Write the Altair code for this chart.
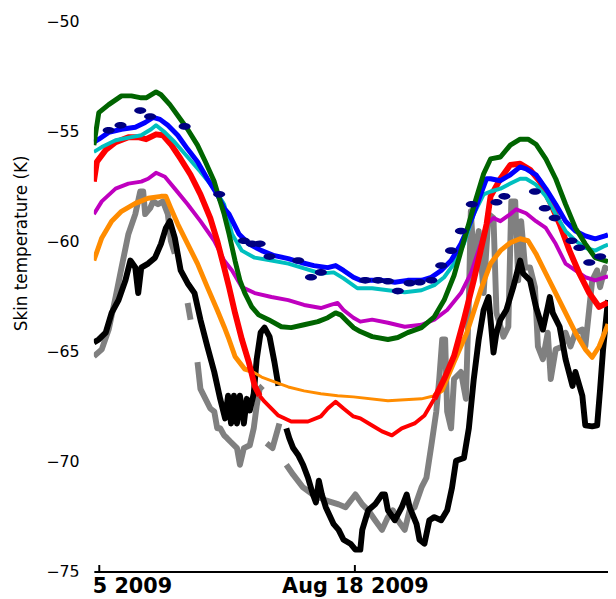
import altair as alt
import pandas as pd

# Time origin: hours are counted from 2009-08-15 00:00
T0 = pd.Timestamp("2009-08-15 00:00:00")
X_START_H = -1.25
X_END_H = 143.04

TICK_DATES = ["2009-08-15T00:00:00", "2009-08-18T00:00:00", "2009-08-21T00:00:00"]
Y_TICKS = [-75, -70, -65, -60, -55, -50]

GREEN = [(-1.25, -55.61), (0.14, -54.13), (2.91, -53.77), (6.51, -53.37), (9.28, -53.37), (12.05, -53.46),
         (13.43, -53.46), (16.2, -53.19), (17.59, -53.32), (20.08, -53.77), (22.29, -54.26), (25.06, -54.89),
         (27.83, -55.61), (30.05, -56.37), (32.54, -57.27), (34.2, -58.17), (35.31, -58.75), (36.69, -59.65),
         (38.36, -60.86), (39.74, -61.76), (41.12, -62.34), (43.06, -62.97), (45.0, -63.33), (47.77, -63.55),
         (51.37, -63.87), (54.14, -63.91), (57.74, -63.78), (61.62, -63.64), (64.39, -63.46), (66.6, -63.24),
         (67.99, -63.33), (69.93, -63.64), (71.59, -63.91), (73.53, -64.09), (76.85, -64.32), (81.28, -64.45),
         (84.05, -64.36), (86.82, -64.14), (90.7, -63.91), (94.3, -63.42), (97.06, -62.66), (99.83, -61.54),
         (102.6, -59.96), (105.37, -58.39), (108.14, -56.91), (110.08, -56.24), (112.85, -56.15), (115.62, -55.61),
         (118.39, -55.34), (120.6, -55.34), (122.82, -55.57), (125.59, -56.24), (128.36, -57.14), (131.13, -58.30),
         (133.9, -59.38), (136.67, -60.10), (139.44, -60.73), (143.04, -60.91)]

BLUE = [(-1.25, -55.48), (0.14, -55.34), (2.91, -55.03), (6.51, -54.89), (10.38, -54.80), (13.15, -54.58),
        (15.37, -54.35), (17.31, -54.44), (19.52, -54.71), (22.29, -55.16), (25.06, -55.79), (27.83, -56.37),
        (30.6, -57.14), (33.37, -57.85), (35.31, -58.48), (36.69, -58.75), (39.46, -59.65), (42.23, -60.10),
        (45.83, -60.41), (49.43, -60.64), (53.31, -60.77), (56.91, -60.95), (60.51, -61.09), (64.39, -61.18),
        (66.6, -61.09), (68.82, -61.31), (71.59, -61.62), (73.53, -61.76), (75.74, -61.76), (79.62, -61.76),
        (83.22, -61.85), (86.82, -61.76), (90.7, -61.76), (93.47, -61.62), (96.23, -61.31), (99.0, -60.86),
        (101.77, -60.10), (104.54, -59.07), (107.31, -57.85), (108.97, -57.14), (110.08, -57.14), (112.85, -57.23),
        (115.62, -56.96), (118.39, -56.60), (120.05, -56.69), (122.82, -56.96), (125.59, -57.59), (128.36, -58.30),
        (131.13, -59.07), (133.9, -59.52), (136.67, -59.74), (139.44, -59.87), (142.21, -59.74), (143.04, -59.69)]

CYAN = [(-1.25, -55.92), (0.97, -55.70), (4.85, -55.39), (9.28, -55.25), (12.05, -55.16), (14.82, -54.89),
        (16.2, -54.71), (18.69, -55.03), (21.46, -55.48), (25.06, -56.15), (28.66, -56.82), (32.54, -57.59),
        (35.31, -58.30), (37.53, -59.65), (40.29, -60.41), (43.89, -60.73), (48.6, -60.86), (53.31, -61.00),
        (57.74, -61.22), (62.45, -61.45), (66.05, -61.40), (68.82, -61.67), (72.7, -62.12), (76.85, -62.12),
        (81.28, -62.21), (85.99, -62.30), (90.7, -62.21), (94.3, -61.98), (97.06, -61.62), (99.83, -61.00),
        (102.6, -60.10), (105.37, -58.75), (108.14, -57.85), (110.08, -57.72), (112.85, -57.59), (115.62, -57.36),
        (118.39, -57.14), (120.05, -57.14), (122.82, -57.41), (125.59, -57.94), (128.36, -58.75), (131.13, -59.52),
        (133.9, -59.96), (136.67, -60.28), (139.44, -60.41), (142.21, -60.19), (143.04, -60.14)]

MAGENTA = [(-1.25, -58.75), (0.97, -58.17), (4.85, -57.59), (8.45, -57.36), (12.05, -57.27), (13.98, -57.14),
           (16.2, -56.87), (18.69, -57.05), (21.46, -57.59), (25.06, -58.30), (28.66, -59.07), (32.54, -59.96),
           (35.31, -60.86), (37.53, -61.31), (40.29, -62.07), (43.89, -62.34), (48.6, -62.52), (53.31, -62.66),
           (57.74, -62.88), (62.45, -63.02), (65.22, -62.88), (67.16, -62.79), (68.82, -63.11), (71.59, -63.46),
           (73.53, -63.64), (76.85, -63.55), (81.28, -63.69), (85.99, -63.87), (90.7, -63.78), (94.3, -63.55),
           (97.9, -63.11), (101.77, -62.34), (104.54, -61.45), (107.31, -60.10), (108.97, -59.20), (110.91, -58.93),
           (112.85, -59.07), (115.62, -58.75), (117.28, -58.53), (120.05, -58.71), (122.82, -59.07), (125.59, -59.38),
           (128.36, -60.10), (131.13, -61.00), (133.9, -61.31), (136.67, -61.62), (139.44, -61.76), (142.21, -61.62),
           (143.04, -61.58)]

RED_A = [(-1.25, -57.27), (-0.4, -56.37), (2.08, -55.83), (4.85, -55.48), (8.45, -55.25), (11.2, -55.25),
         (13.43, -55.34), (16.2, -55.12), (18.14, -55.16), (20.35, -55.57), (23.12, -56.24), (25.89, -56.96),
         (28.66, -57.85), (31.43, -58.93), (33.37, -59.96), (35.31, -61.18), (36.69, -62.07), (38.36, -63.24),
         (40.29, -64.45), (42.23, -65.48), (43.89, -66.56), (45.28, -67.01)]
RED_B = [(45.28, -67.01), (46.66, -67.28), (50.54, -67.91), (54.14, -68.18), (58.85, -68.18), (62.45, -67.95),
         (64.39, -67.59), (66.6, -67.28), (68.82, -67.59), (71.59, -67.95), (73.53, -68.04), (76.85, -68.36),
         (79.62, -68.63), (82.39, -68.81), (85.16, -68.49), (88.76, -68.27), (91.53, -67.91), (94.3, -67.15)]
RED_C = [(94.3, -67.15), (97.06, -66.25), (99.83, -65.20), (102.6, -63.55), (105.37, -61.76), (107.31, -60.40),
         (108.97, -59.20), (110.08, -57.94), (112.85, -57.14), (115.62, -56.51), (118.39, -56.46), (121.16, -56.73),
         (123.93, -57.27), (126.7, -58.17), (129.47, -59.20), (132.24, -60.41), (135.0, -61.45), (137.78, -62.34),
         (140.55, -62.97), (142.77, -62.79), (143.04, -62.75)]

ORANGE_A = [(-1.25, -60.86), (0.97, -59.83), (3.74, -59.07), (6.51, -58.62), (10.38, -58.26), (13.98, -58.03),
            (17.59, -57.94), (18.97, -57.94), (20.35, -58.48), (22.29, -59.20), (25.06, -60.10), (27.83, -61.00),
            (30.6, -62.07), (33.37, -63.11), (35.31, -63.87), (36.69, -64.45), (38.36, -65.22), (41.12, -65.80),
            (43.06, -65.89)]
ORANGE_B = [(43.06, -65.89), (45.83, -66.16), (49.43, -66.38), (53.31, -66.61), (57.74, -66.79), (62.45, -66.92),
            (67.16, -67.01), (71.59, -67.06), (81.28, -67.24), (90.7, -67.15), (94.3, -67.01)]
ORANGE_C = [(94.3, -67.01), (96.5, -66.75), (99.83, -65.48), (103.43, -64.14), (107.31, -62.21), (110.08, -61.00),
            (112.85, -60.41), (115.62, -60.05), (118.39, -59.87), (120.6, -59.96), (122.82, -60.55), (125.59, -61.45),
            (128.36, -62.34), (131.13, -63.24), (133.9, -64.14), (136.67, -64.90), (138.61, -65.26), (140.55, -64.77),
            (142.77, -63.87), (143.04, -63.75)]

BLACK_A = [(-1.25, -64.59), (0.14, -64.45), (2.08, -64.14), (3.74, -63.24), (5.68, -62.66), (7.62, -61.76),
           (9.0, -60.86), (10.38, -61.18), (11.2, -62.34), (12.05, -61.18), (13.98, -61.00), (15.92, -60.73),
           (17.59, -60.10), (18.97, -59.38), (20.08, -59.07), (21.46, -59.83), (23.12, -61.31), (25.06, -61.89),
           (27.0, -62.34), (28.66, -63.55), (30.6, -64.77), (32.54, -65.93), (34.2, -67.15), (35.59, -68.04),
           (36.42, -67.01), (37.25, -68.27), (38.08, -67.01), (38.91, -68.27), (39.74, -67.01), (40.85, -68.27),
           (41.68, -67.15), (42.51, -67.68), (43.62, -66.92), (44.45, -65.35), (45.55, -64.14), (46.66, -63.91),
           (48.05, -64.32), (49.43, -65.48), (50.54, -66.56)]
BLACK_B = [(52.76, -68.49), (53.59, -68.94), (54.69, -69.39), (56.08, -69.70), (57.46, -70.15), (58.85, -70.74),
           (60.23, -71.50), (61.07, -71.86), (61.89, -70.87), (62.73, -71.50), (63.83, -72.08), (66.05, -72.85),
           (67.44, -73.11), (68.82, -73.56), (70.76, -73.74), (72.15, -74.01), (73.53, -74.01), (74.08, -73.11),
           (75.74, -72.22), (77.68, -71.95), (79.62, -71.50), (80.45, -71.50), (81.28, -72.22), (83.22, -72.67),
           (85.16, -72.08), (86.54, -71.50), (87.37, -72.08), (89.31, -72.85), (90.14, -73.56), (91.53, -73.74),
           (92.91, -72.67), (94.3, -72.53), (96.23, -72.67), (97.9, -72.22), (99.28, -71.18), (100.39, -69.97),
           (102.6, -69.84), (103.99, -68.49), (105.37, -66.25), (106.76, -64.45), (108.14, -63.11), (109.52, -62.52),
           (110.08, -63.55), (110.91, -65.04), (111.74, -64.14), (112.85, -63.55), (114.51, -63.11), (116.45, -62.07),
           (118.39, -60.86), (119.22, -61.45), (121.16, -61.76), (122.82, -62.97), (124.76, -64.00), (126.14, -62.97),
           (126.7, -62.52), (127.53, -63.24), (129.47, -63.87), (131.13, -65.35), (133.07, -66.56), (133.9, -65.93),
           (135.84, -67.01), (136.67, -68.36), (138.61, -68.40), (139.99, -68.36), (140.83, -66.70), (141.66, -64.90),
           (143.04, -62.66)]

GRAY_A = [(-1.25, -65.22), (0.97, -64.90), (2.91, -64.00), (4.85, -62.52), (6.51, -61.18), (8.45, -59.65),
          (10.38, -58.75), (11.77, -57.72), (12.6, -57.72), (13.15, -58.75), (14.54, -58.48), (15.37, -58.17),
          (16.75, -58.30), (18.14, -58.17), (19.52, -58.75), (20.35, -59.96), (21.46, -60.55)]
GRAY_B = [(25.06, -62.79), (25.89, -63.55)]
GRAY_C = [(27.83, -65.48), (28.66, -66.70), (31.43, -67.59), (32.54, -67.73), (33.37, -68.49), (34.2, -68.49),
          (35.31, -68.81), (36.14, -68.94), (36.97, -69.08), (38.91, -69.39), (39.74, -70.15), (40.85, -69.39),
          (42.51, -69.26), (43.62, -68.49), (44.45, -67.46), (45.28, -66.70), (46.1, -66.56)]
GRAY_D = [(47.22, -69.17), (48.88, -69.39), (50.82, -68.27)]
GRAY_E = [(52.76, -70.15), (54.69, -70.60), (57.46, -71.18), (60.23, -71.50), (63.83, -71.77), (67.44, -71.95),
          (69.4, -72.08), (72.15, -71.50), (74.08, -71.95), (75.74, -72.22), (77.68, -72.67), (79.62, -73.11),
          (81.28, -72.53), (82.67, -72.22), (84.05, -72.67), (85.99, -73.11), (87.37, -72.22), (88.76, -72.08),
          (90.7, -71.18), (92.08, -70.74), (93.47, -69.26), (94.85, -67.73), (95.68, -66.25), (96.51, -64.45),
          (97.34, -64.45), (97.9, -67.73), (99.0, -68.49), (99.83, -66.25), (101.77, -65.93), (103.16, -67.15),
          (103.99, -62.66), (104.54, -58.62), (105.37, -60.86), (106.76, -59.52), (108.14, -62.34), (109.52, -58.75),
          (110.91, -58.93), (111.74, -63.24), (113.68, -64.32), (115.07, -63.87), (115.9, -58.17), (117.0, -58.17),
          (117.84, -61.76), (118.67, -59.07), (119.77, -61.18), (121.16, -61.18), (122.54, -62.07), (123.37, -64.77),
          (124.76, -65.35), (126.14, -64.14), (126.97, -66.25), (128.36, -64.90), (130.3, -64.77), (131.13, -64.14),
          (132.51, -64.77), (133.9, -64.14), (135.84, -64.00), (136.67, -64.77), (138.61, -61.76), (139.99, -61.31),
          (140.83, -62.07), (142.21, -61.18), (143.04, -61.31)]

DOTS = [(2.91, -54.94), (6.23, -54.71), (11.77, -54.04), (14.54, -54.31), (24.23, -54.76), (33.92, -57.85),
        (40.85, -59.96), (43.06, -60.10), (45.28, -60.10), (48.05, -60.68), (56.08, -60.86), (59.68, -61.62),
        (62.45, -61.40), (74.91, -61.76), (78.51, -61.76), (81.28, -61.80), (84.05, -62.25), (87.37, -61.89),
        (90.14, -61.85), (93.47, -61.76), (96.23, -61.09), (99.0, -60.41), (101.77, -59.52), (104.82, -58.30),
        (111.74, -58.21), (113.96, -57.94), (122.54, -57.72), (125.31, -58.48), (128.08, -58.93), (132.79, -59.96),
        (135.0, -60.28), (137.78, -60.95), (140.83, -60.68)]

W, H = 521, 557


def frame(segments):
    parts = []
    for i, seg in enumerate(segments):
        df = pd.DataFrame(seg, columns=["h", "v"])
        df["t"] = T0 + pd.to_timedelta(df["h"], unit="h")
        df["seg"] = f"s{i}"
        parts.append(df[["t", "v", "seg"]])
    return pd.concat(parts, ignore_index=True)


def ts(hours):
    return (T0 + pd.to_timedelta(hours, unit="h")).strftime("%Y-%m-%dT%H:%M:%S")


x_scale = alt.Scale(domain=[ts(X_START_H), ts(X_END_H)])
y_scale = alt.Scale(domain=[-75, -50], nice=False, zero=False)

main_x_axis = alt.Axis(orient="bottom", values=TICK_DATES, format="%b %d %Y", ticks=False, tickSize=0,
                       domain=True, domainColor="black", domainWidth=2, labelFontSize=21,
                       labelFont="DejaVu Sans", labelFontWeight="bold", labelColor="black", labelPadding=4,
                       labelOverlap=False, labelFlush=False, labelBound=False, grid=False, title=None)
tick_x_axis = alt.Axis(orient="bottom", values=TICK_DATES, offset=-7, ticks=True, tickSize=7, tickWidth=2,
                       tickColor="black", domain=False, labels=False, grid=False, title=None)
y_axis = alt.Axis(values=Y_TICKS, domain=False, ticks=False, grid=False, labelFontSize=16,
                  labelFont="DejaVu Sans", labelColor="black", labelPadding=15,
                  title="Skin temperature (K)", titleFontSize=17, titleFont="DejaVu Sans",
                  titleFontWeight="normal", titleColor="black", titleX=-73, titleY=224,
                  titleAngle=270, titleAlign="center", titleBaseline="middle")

STYLES = [
    ([GRAY_A, GRAY_B, GRAY_C, GRAY_D, GRAY_E], "#808080", 6),
    ([BLACK_A, BLACK_B], "#000000", 6),
    ([ORANGE_A, ORANGE_C], "#ff8c00", 5),
    ([ORANGE_B], "#ff8c00", 3),
    ([MAGENTA], "#bf00bf", 4),
    ([RED_A, RED_C], "#ff0000", 6),
    ([RED_B], "#ff0000", 4),
    ([CYAN], "#00bfbf", 4),
    ([BLUE], "#0000ff", 5),
    ([GREEN], "#006400", 5),
]

layers = []
for i, (segs, color, width) in enumerate(STYLES):
    layer = alt.Chart(frame(segs)).mark_line(
        color=color, strokeWidth=width, strokeJoin="round", strokeCap="butt", clip=True
    ).encode(
        x=alt.X("t:T", scale=x_scale, axis=main_x_axis if i == 0 else None),
        y=alt.Y("v:Q", scale=y_scale, axis=y_axis),
        detail="seg:N",
    )
    layers.append(layer)

ELLIPSE = "M -1 0 A 1 0.55 0 1 0 1 0 A 1 0.55 0 1 0 -1 0 Z"
dots = alt.Chart(frame([DOTS])).mark_point(
    shape=ELLIPSE, filled=True, size=150, color="#000080", opacity=1, clip=True
).encode(
    x=alt.X("t:T", scale=x_scale, axis=tick_x_axis),
    y=alt.Y("v:Q", scale=y_scale, axis=y_axis),
)
layers.append(dots)

# white mask hiding the left part of the first date label, as in the cropped original
mask = alt.Chart(pd.DataFrame({"m": [0]})).mark_rect(color="white", clip=False).encode(
    x=alt.value(-95), x2=alt.value(-1), y=alt.value(H + 5.5), y2=alt.value(H + 40)
)
layers.append(mask)

chart = alt.layer(*layers).resolve_axis(x="independent").properties(
    width=W, height=H,
    autosize=alt.AutoSizeParams(type="none"),
    padding={"left": 87, "top": 10, "right": 0, "bottom": 24},
    background="white",
).configure_view(stroke=None)

chart.save("out.html", embed_options={"renderer": "svg", "actions": False})
